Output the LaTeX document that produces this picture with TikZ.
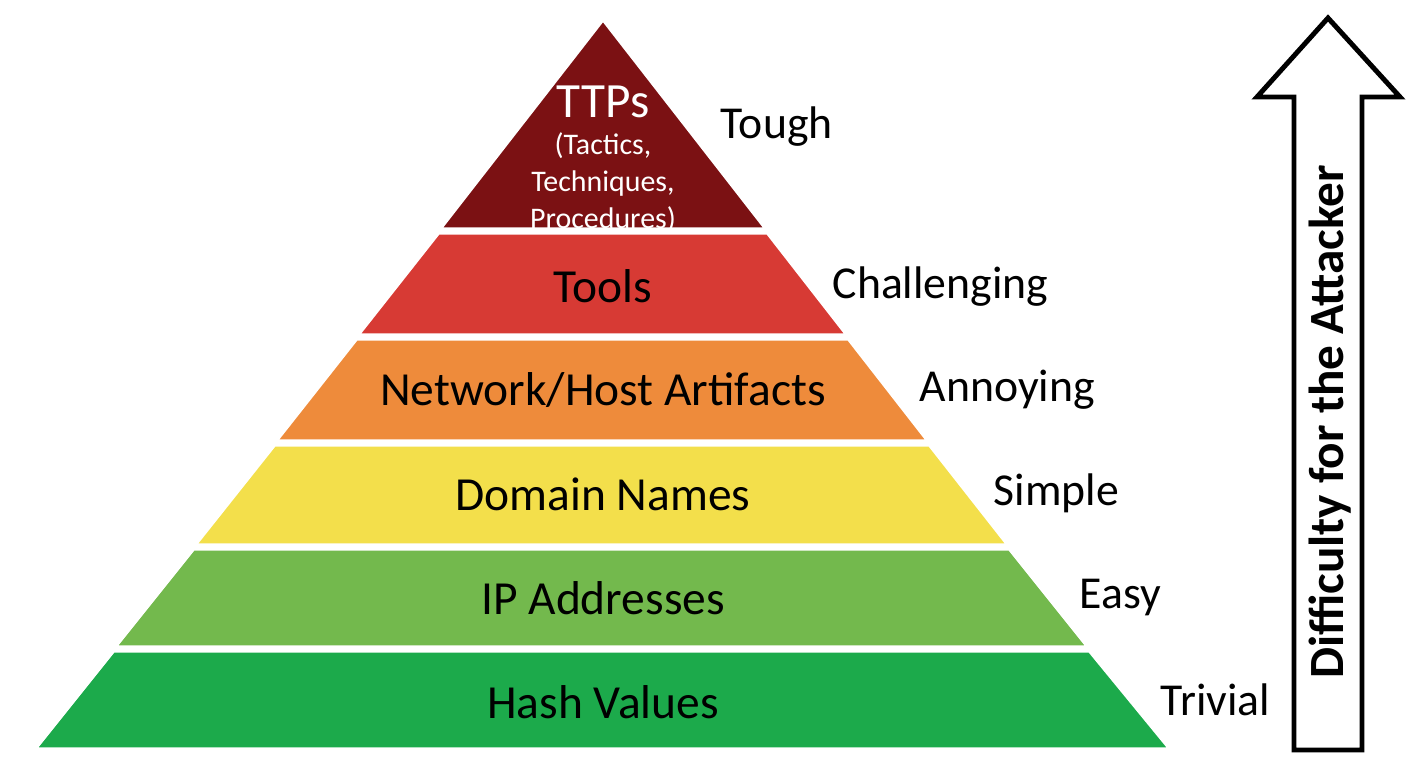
\documentclass[tikz,border=0pt]{standalone}
\usepackage{fontspec}
\setmainfont{Carlito}
\usetikzlibrary{positioning}
\definecolor{ttpred}{HTML}{7B1113}
\definecolor{toolred}{HTML}{D73A34}
\definecolor{netorange}{HTML}{EE8B3B}
\definecolor{domyellow}{HTML}{F3DF4B}
\definecolor{iplgreen}{HTML}{73B94D}
\definecolor{hashgreen}{HTML}{1CAA4B}
\begin{document}
\begin{tikzpicture}[x=0.01cm,y=-0.01cm,
    layer text/.style={font=\fontsize{13.5}{15}\selectfont,text=black},
    side label/.style={font=\fontsize{13}{15}\selectfont,anchor=west,inner sep=0pt},
    band/.style={draw=white,line width=1.5pt}]
  \useasboundingbox (0,0) rectangle (1408,768);
  % pyramid edges: left x = 603-0.7787(y-18), right x = 603+0.7773(y-18)
  \fill[band,fill=ttpred] (603,18) -- (438,230) -- (768,230) -- cycle;
  \fill[band,fill=toolred] (438,232) -- (356,336) -- (849,336) -- (768,232) -- cycle;
  \fill[band,fill=netorange] (356,338) -- (274,442) -- (930,442) -- (849,338) -- cycle;
  \fill[band,fill=domyellow] (274,444) -- (193,546) -- (1010,546) -- (930,444) -- cycle;
  \fill[band,fill=iplgreen] (193,548) -- (113,648) -- (1090,648) -- (1010,548) -- cycle;
  \fill[band,fill=hashgreen] (113,650) -- (33,750) -- (1172,750) -- (1090,650) -- cycle;

  \node[align=center,text=white,font=\fontsize{8.5}{10.5}\selectfont] (ttp) at (603,159)
    {{\fontsize{14}{16}\selectfont TTPs}\\(Tactics,\\Techniques,\\Procedures)};
  \node[layer text] (tools) at (603,286) {Tools};
  \node[layer text] (net) at (603,390) {Network/Host Artifacts};
  \node[layer text] (dom) at (603,494) {Domain Names};
  \node[layer text] (ip) at (603,598) {IP Addresses};
  \node[layer text] (hash) at (603,702) {Hash Values};

  \node[side label] (tough) at (720,127) {Tough};
  \node[side label] (chal) at (832,287) {Challenging};
  \node[side label] (ann) at (919,390) {Annoying};
  \node[side label] (simp) at (993,493) {Simple};
  \node[side label] (easy) at (1079,598) {Easy};
  \node[side label] (triv) at (1160,700) {Trivial};

  % difficulty arrow
  \draw[line width=1.4pt,fill=white] (1294,750) -- (1294,97) -- (1257,97) -- (1328,18)
    -- (1400,97) -- (1362,97) -- (1362,750) -- cycle;
  \node[rotate=90,font=\bfseries\fontsize{14}{16}\selectfont] (diff) at (1330,422)
    {Difficulty for the Attacker};
\end{tikzpicture}
\end{document}
